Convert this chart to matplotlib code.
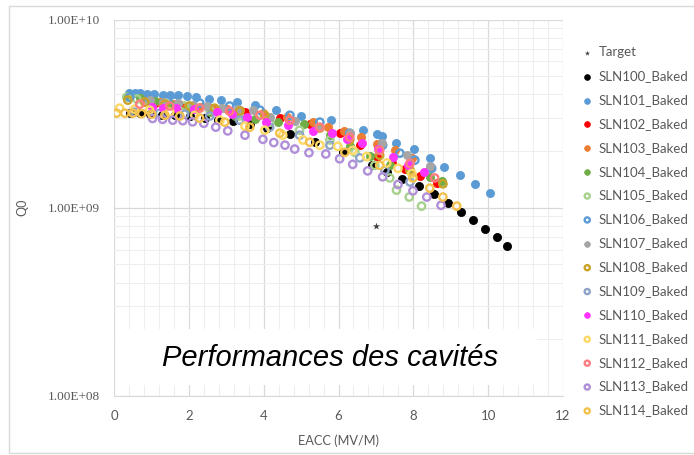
import math
import matplotlib
matplotlib.use("Agg")
import matplotlib.pyplot as plt
from matplotlib.patches import Rectangle
from matplotlib.ticker import FixedLocator, FuncFormatter, MultipleLocator

# Q0 vs accelerating field for each baked cavity (Q0 in units of 1e9)
target_e = [7.0]
target_q = [0.80]

sln100_e = [0.42, 0.69, 0.95, 1.28, 1.62, 2.02, 2.43, 2.77, 3.17, 3.63, 4.08, 4.70, 5.36,
            6.11, 6.89, 7.29, 7.69, 8.15, 8.55, 8.92, 9.27, 9.59, 9.91, 10.23, 10.50]
sln100_q = [3.18, 3.17, 3.14, 3.12, 3.10, 3.07, 2.99, 2.92, 2.89, 2.78, 2.64, 2.46, 2.23,
            1.98, 1.68, 1.55, 1.42, 1.30, 1.19, 1.06, 0.946, 0.858, 0.77, 0.697, 0.624]

sln101_e = [0.39, 0.55, 0.69, 0.87, 1.06, 1.31, 1.49, 1.71, 1.94, 2.20, 2.54, 2.87, 3.29,
            3.76, 4.34, 4.99, 5.81, 6.66, 7.02, 7.15, 7.55, 8.01, 8.44, 8.82, 9.26, 9.66, 10.06]
sln101_q = [4.05, 4.05, 4.05, 4.03, 4.00, 3.97, 3.97, 3.95, 3.92, 3.86, 3.79, 3.73, 3.63,
            3.50, 3.30, 3.08, 2.92, 2.58, 2.46, 2.40, 2.21, 2.04, 1.84, 1.65, 1.49, 1.34, 1.20]

sln102_e = [1.09, 1.76, 2.56, 3.50, 4.43, 5.23, 6.03, 6.57, 7.02, 7.42, 7.77, 8.17, 8.63]
sln102_q = [3.60, 3.51, 3.38, 3.22, 2.99, 2.78, 2.49, 2.15, 1.87, 1.72, 1.60, 1.47, 1.35]

sln103_e = [0.87, 1.22, 1.57, 1.94, 2.29, 2.64, 3.01, 3.36, 3.98, 4.62, 5.31, 5.72, 6.14,
            6.60, 7.02, 7.50, 7.96, 8.44]
sln103_q = [3.73, 3.64, 3.55, 3.49, 3.42, 3.38, 3.34, 3.30, 3.18, 3.05, 2.86, 2.69, 2.56,
            2.37, 2.18, 2.02, 1.83, 1.65]

sln104_e = [0.37, 0.69, 1.09, 1.49, 1.97, 2.56, 3.23, 3.76, 4.38, 5.07, 5.77, 6.30, 6.84,
            7.37, 7.91, 8.44, 8.76]
sln104_q = [3.92, 3.82, 3.68, 3.55, 3.38, 3.22, 3.07, 2.95, 2.85, 2.78, 2.43, 2.13, 1.88,
            1.68, 1.56, 1.45, 1.38]

sln105_e = [0.34, 0.61, 0.95, 1.36, 1.89, 2.56, 3.36, 4.16, 4.96, 5.77, 6.44, 6.97, 7.37,
            7.55, 7.89, 8.22]
sln105_q = [3.87, 3.78, 3.68, 3.60, 3.47, 3.30, 3.07, 2.85, 2.58, 2.29, 1.97, 1.68, 1.44,
            1.24, 1.14, 1.02]

sln106_e = [0.42, 0.95, 1.62, 2.29, 3.09, 3.90, 4.70, 5.50, 6.30, 7.18, 7.64, 8.04, 8.49]
sln106_q = [3.87, 3.78, 3.68, 3.60, 3.47, 3.30, 3.10, 2.85, 2.49, 2.15, 1.95, 1.79, 1.62]

sln107_e = [0.95, 1.30, 1.70, 2.10, 2.48, 2.88, 3.31, 3.71, 4.16, 4.83, 5.44, 6.30, 7.16,
            7.83, 8.44]
sln107_q = [3.73, 3.65, 3.60, 3.53, 3.47, 3.40, 3.34, 3.30, 3.05, 2.88, 2.70, 2.49, 2.21,
            1.90, 1.66]

sln108_e = [0.37, 0.82, 1.36, 2.02, 2.69, 3.36, 4.03, 4.70, 5.50, 6.30, 7.10, 7.91, 8.79]
sln108_q = [3.73, 3.64, 3.55, 3.47, 3.38, 3.26, 3.10, 2.92, 2.65, 2.29, 1.90, 1.58, 1.34]

sln109_e = [0.55, 1.22, 1.89, 2.56, 3.36, 4.16, 4.96, 5.77, 6.57, 7.24, 7.91]
sln109_q = [3.22, 3.18, 3.14, 3.07, 2.92, 2.68, 2.43, 2.15, 1.84, 1.58, 1.37]

sln110_e = [1.01, 1.30, 1.65, 2.13, 2.75, 3.15, 3.55, 4.06, 4.64, 5.31, 5.82, 6.22, 6.62,
            7.05, 7.45, 7.85, 8.28]
sln110_q = [3.44, 3.40, 3.37, 3.34, 3.23, 3.14, 3.04, 2.86, 2.75, 2.55, 2.48, 2.33, 2.20,
            2.04, 1.87, 1.69, 1.55]

sln111_e = [0.15, 0.55, 0.95, 1.49, 2.16, 2.83, 3.50, 4.03, 4.51, 5.05, 5.50, 5.98, 6.38,
            6.75, 7.29, 7.59, 7.96]
sln111_q = [3.38, 3.34, 3.30, 3.22, 3.10, 2.92, 2.71, 2.58, 2.43, 2.29, 2.15, 2.12, 2.02,
            1.87, 1.73, 1.62, 1.52]

sln112_e = [0.69, 1.49, 2.29, 3.09, 3.90, 4.70, 5.50, 6.30, 7.10, 7.91, 8.57]
sln112_q = [3.55, 3.47, 3.38, 3.26, 3.10, 2.92, 2.68, 2.37, 2.02, 1.72, 1.44]

sln113_e = [1.03, 1.30, 1.57, 1.84, 2.10, 2.40, 2.72, 3.04, 3.50, 3.98, 4.27, 4.57, 4.83,
            5.21, 5.66, 6.03, 6.38, 6.78, 7.18, 7.59, 7.99, 8.36, 8.74]
sln113_q = [2.98, 2.95, 2.92, 2.90, 2.86, 2.81, 2.68, 2.56, 2.43, 2.31, 2.22, 2.15, 2.05,
            1.96, 1.93, 1.82, 1.70, 1.57, 1.46, 1.33, 1.23, 1.14, 1.03]

sln114_e = [0.07, 0.29, 0.50, 0.74, 1.01, 1.36, 1.76, 2.29, 2.96, 3.63, 4.43, 5.23, 6.17,
            7.10, 7.99, 8.44, 8.79, 9.16]
sln114_q = [3.18, 3.18, 3.18, 3.16, 3.14, 3.10, 3.07, 2.99, 2.85, 2.68, 2.49, 2.23, 1.97,
            1.68, 1.44, 1.27, 1.14, 1.02]

# name, E, Q, colour, filled
series = [
    ("SLN100_Baked", sln100_e, sln100_q, "#000000", True),
    ("SLN101_Baked", sln101_e, sln101_q, "#5B9BD5", True),
    ("SLN102_Baked", sln102_e, sln102_q, "#FF0000", True),
    ("SLN103_Baked", sln103_e, sln103_q, "#ED7D31", True),
    ("SLN104_Baked", sln104_e, sln104_q, "#70AD47", True),
    ("SLN105_Baked", sln105_e, sln105_q, "#A9D18E", False),
    ("SLN106_Baked", sln106_e, sln106_q, "#5B9BD5", False),
    ("SLN107_Baked", sln107_e, sln107_q, "#A5A5A5", True),
    ("SLN108_Baked", sln108_e, sln108_q, "#C9A227", False),
    ("SLN109_Baked", sln109_e, sln109_q, "#8EA3C8", False),
    ("SLN110_Baked", sln110_e, sln110_q, "#FF33FF", True),
    ("SLN111_Baked", sln111_e, sln111_q, "#FFD966", False),
    ("SLN112_Baked", sln112_e, sln112_q, "#FF7C80", False),
    ("SLN113_Baked", sln113_e, sln113_q, "#B08FD8", False),
    ("SLN114_Baked", sln114_e, sln114_q, "#F2C14E", False),
]

GRAY_TXT = "#595959"
plt.rcParams["font.family"] = ["Lato", "DejaVu Sans"]

fig = plt.figure(figsize=(6.94, 4.55), dpi=100)
ax = fig.add_axes([114 / 694, 1 - 396 / 455, (563 - 114) / 694, (396 - 19.5) / 455])

ax.scatter(target_e, [q * 1e9 for q in target_q], marker="*", s=30, c="#404040",
           linewidths=0, label="Target", zorder=3)
for name, e, q, col, filled in series:
    qv = [v * 1e9 for v in q]
    if filled:
        ax.scatter(e, qv, s=34, c=col, edgecolors=col, linewidths=0.6, label=name, zorder=3)
    else:
        ax.scatter(e, qv, s=28, facecolors="none", edgecolors=col, linewidths=1.7,
                   label=name, zorder=3)

ax.set_yscale("log")
ax.set_xlim(0, 12)
ax.set_ylim(1e8, 1e10)
ax.xaxis.set_major_locator(MultipleLocator(2))
ax.xaxis.set_minor_locator(MultipleLocator(0.4))
ax.yaxis.set_major_locator(FixedLocator([1e8, 1e9, 1e10]))
ax.yaxis.set_major_formatter(FuncFormatter(lambda v, p: "1.00E+%02d" % round(math.log10(v))))
ax.grid(which="major", color="#D9D9D9", lw=0.9)
ax.grid(which="minor", color="#EEEEEE", lw=0.8)
ax.set_axisbelow(True)
for s in ("top", "left", "right"):
    ax.spines[s].set_visible(False)
ax.spines["bottom"].set_color("#D9D9D9")
ax.tick_params(which="both", length=0, colors=GRAY_TXT, labelsize=9.5)
ax.tick_params(axis="x", pad=10)
ax.tick_params(axis="y", pad=10)
for lab in ax.get_yticklabels():
    lab.set_fontfamily(["Liberation Serif", "DejaVu Serif"])
    lab.set_fontsize(9.5)

ax.set_xlabel("EACC (MV/M)", color=GRAY_TXT, fontsize=9.2, labelpad=9)
ax.set_ylabel("Q0", color=GRAY_TXT, fontsize=9, labelpad=8)
ax.yaxis.set_label_coords(-(114 - 28) / 449, 0.5)

leg = ax.legend(loc="upper left", bbox_to_anchor=(578 / 694, 1 - 41 / 455),
                bbox_transform=fig.transFigure, frameon=False, fontsize=9.5,
                labelspacing=0.9, handlelength=0.6, handletextpad=0.55,
                borderaxespad=0, markerscale=0.7)
for t in leg.get_texts():
    t.set_color(GRAY_TXT)

# white caption box laid over the lower part of the plot
fig.patches.append(Rectangle((116 / 694, 1 - 385 / 455), (537 - 116) / 694, 56 / 455,
                             transform=fig.transFigure, facecolor="white",
                             edgecolor="none", zorder=5))
fig.text(330 / 694, 1 - 358 / 455, "Performances des cavités", ha="center", va="center",
         fontsize=21, style="italic", family=["Liberation Sans", "DejaVu Sans"],
         color="black", zorder=6)

# light frame round the whole chart
fig.patches.append(Rectangle((9 / 694, 1 - 453 / 455), 700 / 694, 447 / 455,
                             transform=fig.transFigure, facecolor="none",
                             edgecolor="#D9D9D9", lw=1.0, zorder=0))

fig.savefig("out.png", dpi=100)
